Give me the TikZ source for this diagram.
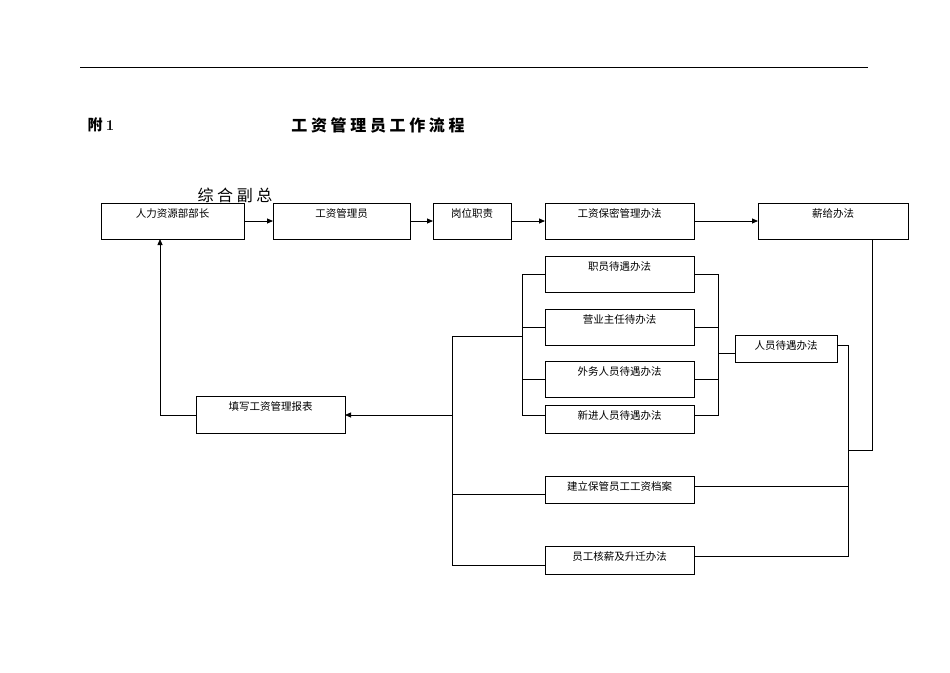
\documentclass[tikz,border=0pt]{standalone}
\usepackage{fontspec}
\newfontfamily\cjk{Noto Serif CJK SC}
\newfontfamily\cjks{Noto Sans CJK SC}
\usetikzlibrary{arrows.meta}
\begin{document}
\begin{tikzpicture}[x=1pt,y=-1pt,
  bx/.style={draw,line width=0.9pt},
  ln/.style={line width=0.8pt},
  ar/.style={ln,-{Triangle[length=6pt,width=5pt]}},
  tx/.style={font=\cjks\fontsize{10.5}{12}\selectfont,anchor=north,inner sep=0pt}]
\useasboundingbox (0,0) rectangle (950,672);
\draw[line width=0.6pt] (80,67) -- (868,67);
\node[anchor=west,font=\bfseries\fontsize{15}{16}\selectfont] (fu) at (84,125) {\cjks 附 \rmfamily 1};
\node[font=\cjks\bfseries\fontsize{16}{18}\selectfont] (title) at (378,125) {工 资 管 理 员 工 作 流 程};
\node[font=\cjks\fontsize{16}{18}\selectfont] (zh) at (235,195) {综 合 副 总};
\newcommand\bb[6]{\draw[bx] (#2,#3) rectangle (#4,#5); \coordinate (#1) at ({(#2+#4)/2},#3); \node[tx] (#1t) at ({(#2+#4)/2},{#3+5}) {#6};}
\bb{A}{101}{203}{244}{239}{人力资源部部长}
\bb{B}{273}{203}{410}{239}{工资管理员}
\bb{C}{433}{203}{511}{239}{岗位职责}
\bb{D}{545}{203}{694}{239}{工资保密管理办法}
\bb{E}{758}{203}{908}{239}{薪给办法}
\bb{F1}{545}{256}{694}{292}{职员待遇办法}
\bb{F2}{545}{309}{694}{345}{营业主任待办法}
\bb{F3}{545}{361}{694}{397}{外务人员待遇办法}
\bb{F4}{545}{405}{694}{433}{新进人员待遇办法}
\bb{G}{735}{335}{837}{362}{人员待遇办法}
\bb{H}{545}{476}{694}{503}{建立保管员工工资档案}
\bb{K}{545}{546}{694}{574}{员工核薪及升迁办法}
\bb{R}{196}{396}{345}{433}{填写工资管理报表}
\draw[ar] (244,221) -- (273,221);
\draw[ar] (410,221) -- (433,221);
\draw[ar] (511,221) -- (545,221);
\draw[ar] (694,221) -- (758,221);
\draw[ln] (545,274) -- (522,274) -- (522,415) -- (545,415);
\draw[ln] (522,327) -- (545,327);
\draw[ln] (522,379) -- (545,379);
\draw[ln] (694,274) -- (718,274) -- (718,415) -- (694,415);
\draw[ln] (694,327) -- (718,327);
\draw[ln] (694,379) -- (718,379);
\draw[ln] (718,353) -- (735,353);
\draw[ln] (522,336) -- (452,336) -- (452,565) -- (545,565);
\draw[ln] (452,494) -- (545,494);
\draw[ar] (452,415) -- (345,415);
\draw[ar] (196,415) -- (160,415) -- (160,239);
\draw[ln] (837,345) -- (848,345) -- (848,556) -- (694,556);
\draw[ln] (694,486) -- (848,486);
\draw[ln] (848,450) -- (872,450) -- (872,239);
\end{tikzpicture}
\end{document}
